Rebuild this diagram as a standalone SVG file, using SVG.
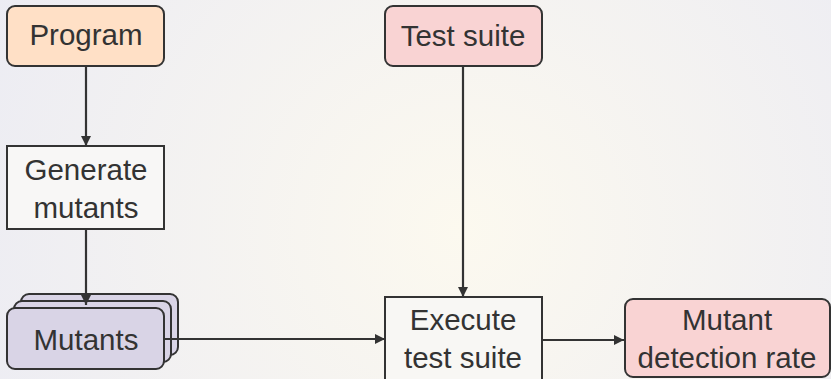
<svg xmlns="http://www.w3.org/2000/svg" width="831" height="379" viewBox="0 0 831 379">
<defs>
<radialGradient id="bg" cx="460" cy="230" r="520" gradientUnits="userSpaceOnUse">
<stop offset="0" stop-color="#FCF9EF"/>
<stop offset="1" stop-color="#ECECF3"/>
</radialGradient>
<marker id="arr" viewBox="0 0 10 10" refX="10" refY="5" markerWidth="12" markerHeight="10" markerUnits="userSpaceOnUse" orient="auto">
<path d="M0,0 L10,5 L0,10 Z" fill="#333"/>
</marker>
<style>
.box{stroke:#333;stroke-width:2}
.t{font-family:"Liberation Sans",Arial,sans-serif;font-size:29.5px;fill:#333;text-anchor:middle}
.c{stroke:#333;stroke-width:2.2;fill:none;marker-end:url(#arr)}
</style>
</defs>
<rect x="0" y="0" width="831" height="379" fill="url(#bg)"/>
<g id="program">
<rect class="box" x="7" y="6" width="157" height="60" rx="8" fill="#FFE0C6"/>
<text class="t" x="86" y="45">Program</text>
</g>
<g id="test-suite">
<rect class="box" x="385" y="6" width="157" height="60" rx="8" fill="#F9D3D3"/>
<text class="t" x="463" y="46">Test suite</text>
</g>
<g id="generate-mutants">
<rect class="box" x="7" y="146" width="157" height="83" fill="#F8F7F6"/>
<text class="t" x="86" y="180">Generate</text>
<text class="t" x="86" y="218">mutants</text>
</g>
<g id="mutants">
<rect class="box" x="21" y="294" width="157" height="61" rx="8" fill="#D9D4E6"/>
<rect class="box" x="14" y="301" width="157" height="61" rx="8" fill="#D9D4E6"/>
<rect class="box" x="7" y="308" width="157" height="61" rx="8" fill="#D9D4E6"/>
<text class="t" x="86" y="350">Mutants</text>
</g>
<g id="execute">
<rect class="box" x="385" y="297" width="157" height="90" fill="#F8F7F4"/>
<text class="t" x="463" y="330">Execute</text>
<text class="t" x="463" y="368">test suite</text>
</g>
<g id="detection-rate">
<rect class="box" x="625" y="299" width="205" height="78" rx="8" fill="#F9D3D3"/>
<text class="t" x="727" y="330">Mutant</text>
<text class="t" x="727" y="368">detection rate</text>
</g>
<g id="connectors">
<path class="c" d="M86,66 V146"/>
<path class="c" d="M86,229 V305"/>
<path class="c" d="M164,339 H385"/>
<path class="c" d="M463,66 V297"/>
<path class="c" d="M542,340 H624"/>
</g>
</svg>
